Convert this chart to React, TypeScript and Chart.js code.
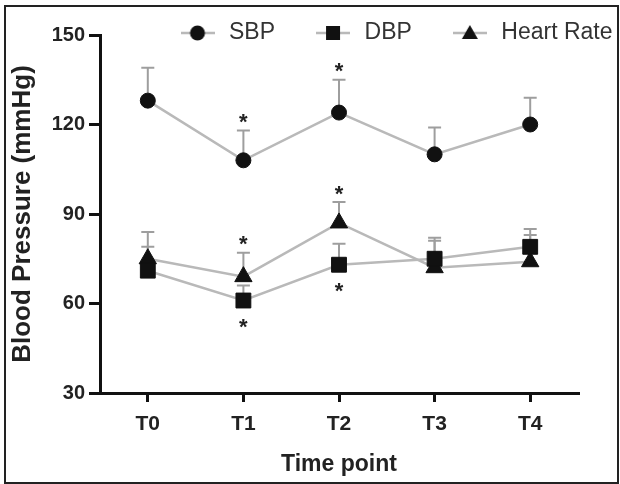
import React, { useEffect, useRef } from 'react';
import { Chart, registerables } from 'chart.js';

Chart.register(...registerables);

const categories = ['T0', 'T1', 'T2', 'T3', 'T4'];
const sbpValues = [128, 108, 124, 110, 120];
const sbpErrors = [11, 10, 11, 9, 9];
const dbpValues = [71, 61, 73, 75, 79];
const dbpErrors = [8, 5, 7, 7, 6];
const hrValues = [75, 69, 87, 72, 74];
const hrErrors = [9, 8, 7, 9, 9];
const yTickValues = [30, 60, 90, 120, 150];
const sbpSignificance = ['', 'above', 'above', '', ''];
const dbpSignificance = ['', 'below', 'below', '', ''];
const hrSignificance = ['', 'above', 'above', '', ''];
const seriesNames = ['SBP', 'DBP', 'Heart Rate'];

const FONT = "'Liberation Sans', Arial, Helvetica, sans-serif";
const LINE_GRAY = '#b9b9b9';
const ERR_GRAY = '#9e9e9e';
const INK = '#111';

function makeIcon(kind: string): HTMLCanvasElement {
  const c = document.createElement('canvas');
  c.width = 34;
  c.height = 20;
  const g = c.getContext('2d')!;
  g.strokeStyle = LINE_GRAY;
  g.lineWidth = 2.5;
  g.beginPath();
  g.moveTo(0, 10);
  g.lineTo(34, 10);
  g.stroke();
  g.fillStyle = INK;
  g.beginPath();
  if (kind === 'circle') {
    g.arc(17, 10, 7.5, 0, Math.PI * 2);
  } else if (kind === 'rect') {
    g.rect(10, 3, 14, 14);
  } else {
    g.moveTo(17, 2);
    g.lineTo(25, 16);
    g.lineTo(9, 16);
    g.closePath();
  }
  g.fill();
  return c;
}

export default function App() {
  const ref = useRef<HTMLCanvasElement | null>(null);

  useEffect(() => {
    if (!ref.current) return;
    Chart.defaults.font.family = FONT;
    const icons = [makeIcon('circle'), makeIcon('rect'), makeIcon('triangle')];

    const series = [
      { values: sbpValues, errors: sbpErrors, sig: sbpSignificance },
      { values: dbpValues, errors: dbpErrors, sig: dbpSignificance },
      { values: hrValues, errors: hrErrors, sig: hrSignificance },
    ];

    const extras = {
      id: 'extras',
      afterInit(chart: any) {
        const lg = chart.legend;
        if (!lg) return;
        const orig = lg.fit;
        lg.fit = function () {
          this.maxWidth = 1000;
          orig.call(this);
          this.height = 0;
        };
      },
      afterLayout(chart: any) {
        const lg = chart.legend;
        if (!lg) return;
        lg.left = 139.5;
        lg.right = 760;
        lg.width = 620.5;
        lg.top = -16.5;
        lg.bottom = 62;
        lg.height = 78.5;
      },
      beforeDatasetsDraw(chart: any) {
        const { ctx, scales } = chart;
        const x = scales.x;
        const y = scales.y;
        ctx.save();
        ctx.strokeStyle = ERR_GRAY;
        ctx.lineWidth = 2;
        series.forEach((s) => {
          s.values.forEach((v, i) => {
            const px = x.getPixelForValue(i);
            const py = y.getPixelForValue(v);
            const pt = y.getPixelForValue(v + s.errors[i]);
            ctx.beginPath();
            ctx.moveTo(px, py);
            ctx.lineTo(px, pt);
            ctx.moveTo(px - 6.5, pt);
            ctx.lineTo(px + 6.5, pt);
            ctx.stroke();
          });
        });
        ctx.restore();
      },
      afterDatasetsDraw(chart: any) {
        const { ctx, scales } = chart;
        const x = scales.x;
        const y = scales.y;
        ctx.save();
        ctx.fillStyle = '#222';
        ctx.font = `bold 22px ${FONT}`;
        ctx.textAlign = 'center';
        ctx.textBaseline = 'alphabetic';
        series.forEach((s) => {
          s.sig.forEach((where, i) => {
            if (!where) return;
            const px = x.getPixelForValue(i);
            let cy: number;
            if (where === 'above') {
              cy = y.getPixelForValue(s.values[i] + s.errors[i]) - 14;
            } else {
              cy = y.getPixelForValue(s.values[i]) + 21;
            }
            ctx.fillText('*', px, cy + 12.6);
          });
        });
        ctx.restore();
      },
    };

    const axisGrid = (len: number) => ({
      display: true,
      drawOnChartArea: false,
      drawTicks: true,
      tickLength: len,
      tickWidth: 3,
      tickColor: INK,
      color: INK,
      lineWidth: 3,
    });

    const chart = new Chart(ref.current, {
      type: 'line',
      data: {
        labels: categories,
        datasets: [
          {
            label: seriesNames[0],
            data: sbpValues,
            borderColor: LINE_GRAY,
            borderWidth: 2.5,
            pointStyle: 'circle',
            pointRadius: 7.5,
            pointBackgroundColor: INK,
            pointBorderColor: INK,
            pointBorderWidth: 1,
            tension: 0,
          },
          {
            label: seriesNames[1],
            data: dbpValues,
            borderColor: LINE_GRAY,
            borderWidth: 2.5,
            pointStyle: 'rect',
            pointRadius: 10.5,
            pointBackgroundColor: INK,
            pointBorderColor: INK,
            pointBorderWidth: 1,
            tension: 0,
          },
          {
            label: seriesNames[2],
            data: hrValues,
            borderColor: LINE_GRAY,
            borderWidth: 2.5,
            pointStyle: 'triangle',
            pointRadius: 10,
            pointBackgroundColor: INK,
            pointBorderColor: INK,
            pointBorderWidth: 1,
            tension: 0,
          },
        ],
      },
      options: {
        animation: false,
        responsive: false,
        events: [],
        layout: { padding: { left: 0, right: 42, top: 35, bottom: 0 } },
        scales: {
          x: {
            type: 'category',
            offset: true,
            grid: axisGrid(9) as any,
            border: { display: true, color: INK, width: 3 },
            ticks: {
              font: { size: 21, weight: 'bold' },
              color: '#222',
              padding: 10,
            },
            title: {
              display: true,
              text: 'Time point',
              font: { size: 23, weight: 'bold' },
              color: '#222',
              padding: { top: 0, bottom: 6 },
            },
            afterFit: (s: any) => {
              s.height = 91;
            },
          },
          y: {
            min: 30,
            max: 150,
            afterBuildTicks: (s: any) => {
              s.ticks = yTickValues.map((v) => ({ value: v }));
            },
            grid: axisGrid(11) as any,
            border: { display: true, color: INK, width: 3 },
            ticks: {
              font: { size: 20, weight: 'bold' },
              color: '#222',
              padding: 4,
            },
            title: {
              display: true,
              text: 'Blood Pressure (mmHg)',
              font: { size: 26, weight: 'bold' },
              color: '#222',
              padding: { top: 7, bottom: 0 },
            },
            afterFit: (s: any) => {
              s.width = 100;
            },
          },
        },
        plugins: {
          tooltip: { enabled: false },
          legend: {
            display: true,
            position: 'top',
            align: 'start',
            labels: {
              usePointStyle: true,
              pointStyleWidth: 40,
              padding: 38,
              color: '#333',
              font: { size: 23 },
              generateLabels: (c: any) => {
                const items = (Chart.defaults.plugins.legend.labels as any).generateLabels(c);
                return items.map((it: any, i: number) => ({ ...it, pointStyle: icons[i], lineWidth: 0 }));
              },
            },
          },
        },
      },
      plugins: [extras as any],
    });

    return () => {
      chart.destroy();
    };
  }, []);

  return (
    <div style={{ position: 'absolute', left: 0, top: 0, width: 620, height: 484, background: '#fff' }}>
      <canvas ref={ref} width={620} height={484} style={{ display: 'block', width: 620, height: 484 }} />
      <div
        style={{
          position: 'absolute',
          left: 4,
          top: 5,
          width: 615,
          height: 479,
          border: '2px solid #222',
          boxSizing: 'border-box',
          pointerEvents: 'none',
        }}
      />
    </div>
  );
}
